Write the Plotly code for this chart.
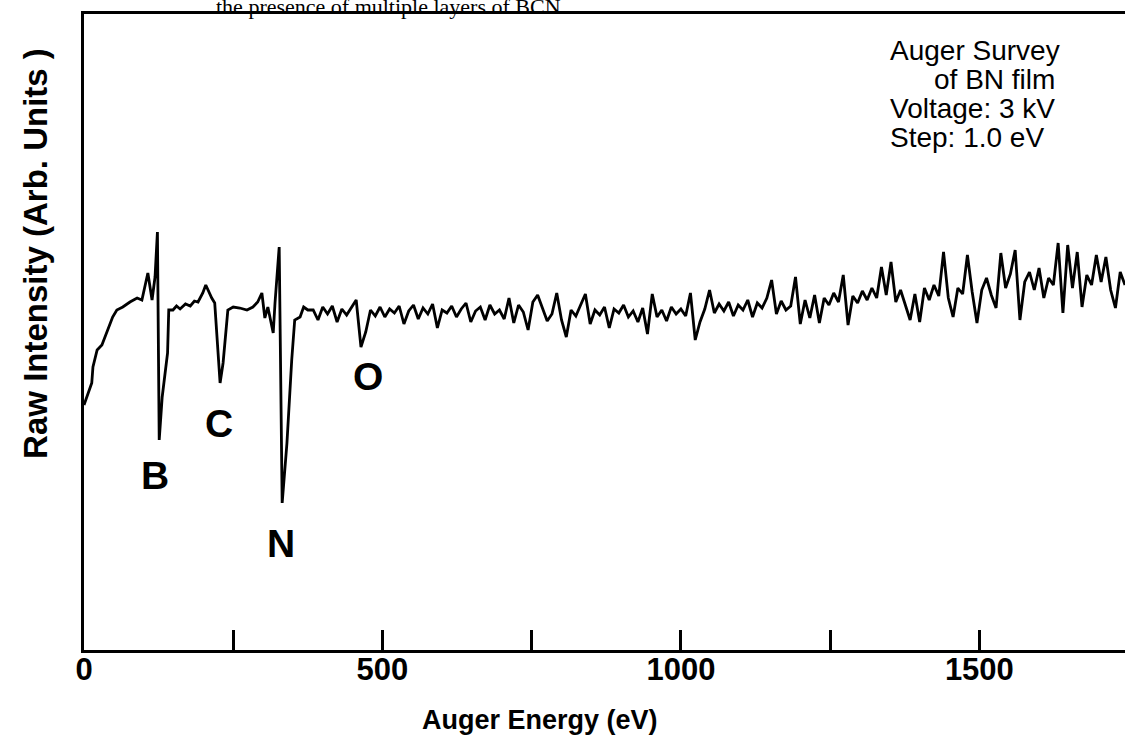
import plotly.graph_objects as go

# ---- data read from the scanned Auger survey (arbitrary intensity units) ----
energy_main = [0, 3, 7, 13, 15, 22, 30, 38, 48, 55, 65, 77, 89, 97, 102, 107, 114, 119, 123, 126,
               131, 136, 140, 142, 149, 155, 161, 170, 178, 185, 191, 199, 204, 214, 219, 228, 233, 241,
               250, 261, 273, 283, 291, 298, 303, 308, 317, 320, 327, 332, 340, 348, 353, 362, 368, 375]
intensity_main = [245, 250, 258, 267, 283, 300, 305, 317, 333, 340, 343, 348, 352, 350, 363, 377, 350, 373, 418, 210,
                  253, 280, 297, 340, 340, 344, 341, 346, 344, 349, 348, 357, 365, 352, 347, 267, 287, 340,
                  343, 342, 340, 343, 348, 357, 332, 343, 317, 347, 403, 147, 207, 290, 330, 333, 343, 340]

energy_tail = [384, 392, 400, 408, 416, 424, 432, 440, 448, 456,
               464, 472, 480, 488, 496, 504, 512, 520, 528, 536,
               544, 552, 560, 568, 576, 584, 592, 600, 608, 616,
               624, 632, 640, 648, 656, 664, 672, 680, 688, 696,
               704, 712, 720, 728, 736, 744, 752, 760, 768, 776,
               784, 792, 800, 808, 816, 824, 832, 840, 848, 856,
               864, 872, 880, 888, 896, 904, 912, 920, 928, 936,
               944, 952, 960, 968, 976, 984, 992, 1000, 1008, 1016,
               1024, 1032, 1040, 1048, 1056, 1064, 1072, 1080, 1088, 1096,
               1104, 1112, 1120, 1128, 1136, 1144, 1152, 1160, 1168, 1176,
               1184, 1192, 1200, 1208, 1216, 1224, 1232, 1240, 1248, 1256,
               1264, 1272, 1280, 1288, 1296, 1304, 1312, 1320, 1328, 1336,
               1344, 1352, 1360, 1368, 1376, 1384, 1392, 1400, 1408, 1416,
               1424, 1432, 1440, 1448, 1456, 1464, 1472, 1480, 1488, 1496,
               1504, 1512, 1520, 1528, 1536, 1544, 1552, 1560, 1568, 1576,
               1584, 1592, 1600, 1608, 1616, 1624, 1632, 1640, 1648, 1656,
               1664, 1672, 1680, 1688, 1696, 1704, 1712, 1720, 1728, 1736, 1744]
intensity_tail = [340, 330, 343, 336, 344, 328, 341, 335, 342, 350,
                  303, 318, 340, 334, 343, 333, 341, 337, 344, 326,
                  339, 345, 331, 342, 336, 346, 322, 340, 337, 344,
                  333, 341, 347, 328, 339, 343, 330, 345, 336, 340,
                  331, 352, 327, 345, 338, 320, 348, 355, 342, 329,
                  336, 357, 330, 313, 340, 334, 345, 356, 326, 340,
                  335, 343, 322, 341, 337, 345, 333, 339, 328, 342,
                  316, 356, 333, 340, 329, 343, 336, 341, 334, 357,
                  310, 328, 341, 360, 337, 346, 339, 348, 334, 345,
                  340, 350, 333, 347, 342, 352, 370, 336, 349, 340,
                  344, 373, 326, 350, 332, 355, 327, 352, 345, 357,
                  348, 375, 325, 354, 347, 359, 350, 362, 352, 383,
                  355, 388, 348, 360, 345, 330, 356, 328, 362, 350,
                  365, 354, 398, 352, 333, 362, 356, 395, 358, 327,
                  360, 372, 355, 342, 397, 362, 376, 400, 330, 368,
                  378, 360, 382, 352, 372, 365, 407, 337, 405, 362,
                  398, 343, 375, 365, 395, 368, 393, 360, 342, 378, 365]

peak_labels = ["B", "C", "N", "O"]
peak_label_energy = [119, 226, 330, 476]
peak_label_level = [175, 227, 107, 274]

info_lines = ["Auger Survey", "of BN film", "Voltage: 3 kV", "Step: 1.0 eV"]

tick_values = [0, 250, 500, 750, 1000, 1250, 1500]
tick_text = ["0", "", "500", "", "1000", "", "1500"]

energy = energy_main + energy_tail
intensity = intensity_main + intensity_tail

FONT = "Liberation Sans, Arial, Helvetica, sans-serif"

fig = go.Figure()
fig.add_trace(go.Scatter(x=energy, y=intensity, mode="lines",
                         line=dict(color="black", width=2.8), hoverinfo="skip",
                         showlegend=False))

annotations = []
for lab, ex, ly in zip(peak_labels, peak_label_energy, peak_label_level):
    annotations.append(dict(x=ex, y=ly, xref="x", yref="y", text="<b>%s</b>" % lab,
                            showarrow=False, font=dict(family=FONT, size=39, color="black"),
                            xanchor="center", yanchor="middle"))

info_x = [1347, 1420, 1347, 1347]
info_y = [600, 571, 542, 513]
for t, ix, iy in zip(info_lines, info_x, info_y):
    annotations.append(dict(x=ix, y=iy, xref="x", yref="y", text=t, showarrow=False,
                            font=dict(family=FONT, size=28, color="black"),
                            xanchor="left", yanchor="middle"))

annotations.append(dict(x=0.438, y=-0.110, xref="paper", yref="paper",
                        text="<b>Auger Energy (eV)</b>", showarrow=False,
                        font=dict(family=FONT, size=27, color="black"),
                        xanchor="center", yanchor="middle"))
annotations.append(dict(x=-0.046, y=0.623, xref="paper", yref="paper",
                        text="<b>Raw Intensity (Arb. Units )</b>", showarrow=False, textangle=-90,
                        font=dict(family=FONT, size=33, color="black"),
                        xanchor="center", yanchor="middle"))
annotations.append(dict(x=0.295, y=1, xref="paper", yref="paper", yshift=8,
                        text="the presence of multiple layers of BCN.", showarrow=False,
                        font=dict(family="Liberation Serif, Times New Roman, serif", size=22, color="black"),
                        xanchor="center", yanchor="middle"))

fig.update_layout(
    width=1125, height=756,
    margin=dict(l=84, r=0, t=14, b=106),
    paper_bgcolor="white", plot_bgcolor="white",
    annotations=annotations,
    xaxis=dict(range=[0, 1744], showgrid=False, zeroline=False,
               showline=True, linecolor="black", linewidth=3, mirror=True,
               ticks="inside", ticklen=20, tickwidth=2.5, tickcolor="black",
               tickvals=tick_values, ticktext=tick_text, ticklabelstandoff=-10,
               tickfont=dict(family=FONT, size=31, color="black", weight="bold")),
    yaxis=dict(range=[0, 636], showgrid=False, zeroline=False,
               showline=True, linecolor="black", linewidth=3, mirror=False,
               showticklabels=False, ticks=""),
)

fig.write_html("out.html")
